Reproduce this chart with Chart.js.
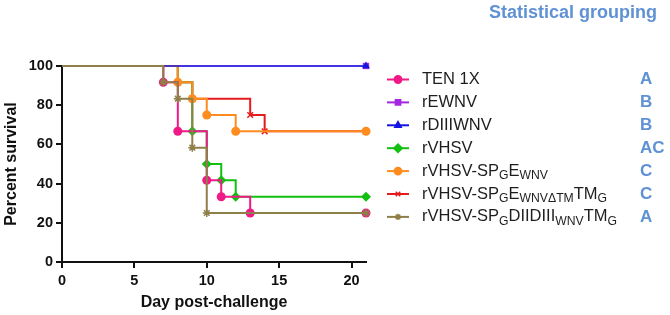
<!DOCTYPE html>
<html>
<head>
<meta charset="utf-8">
<script src="https://cdn.jsdelivr.net/npm/chart.js@4/dist/chart.umd.min.js"></script>
<style>
  html, body { margin: 0; padding: 0; background: #fff; }
  #wrap { width: 670px; height: 315px; position: relative; }
</style>
</head>
<body>
<div id="wrap"><canvas id="survival-chart" width="670" height="315"></canvas></div>
<script>
// series names (plain) and rich labels with _{subscript} markup
const seriesNames = ['TEN 1X', 'rEWNV', 'rDIIIWNV', 'rVHSV', 'rVHSV-SPGEWNV', 'rVHSV-SPGEWNVΔTMTMG', 'rVHSV-SPGDIIDIIIWNVTMG'];
const legendLabels = ['TEN 1X', 'rEWNV', 'rDIIIWNV', 'rVHSV', 'rVHSV-SP_{G}E_{WNV}', 'rVHSV-SP_{G}E_{WNVΔTM}TM_{G}', 'rVHSV-SP_{G}DIIDIII_{WNV}TM_{G}'];
const groupLetters = ['A', 'B', 'B', 'AC', 'C', 'C', 'A'];

// event days and percent survival (Kaplan-Meier steps)
const tenDays = [0, 7, 8, 10, 11, 13, 21];
const tenSurv = [100, 91.7, 66.7, 41.7, 33.3, 25, 25];
const rewnvDays = [0, 21];
const rewnvSurv = [100, 100];
const rdiiiDays = [0, 21];
const rdiiiSurv = [100, 100];
const vhsvDays = [0, 8, 9, 10, 11, 12, 21];
const vhsvSurv = [100, 91.7, 66.7, 50, 41.7, 33.3, 33.3];
const ewnvDays = [0, 8, 9, 10, 12, 21];
const ewnvSurv = [100, 91.7, 83.3, 75, 66.7, 66.7];
const etmDays = [0, 8, 9, 13, 14, 21];
const etmSurv = [100, 91.7, 83.3, 75, 66.7, 66.7];
const diiiTmDays = [0, 7, 8, 9, 10, 21];
const diiiTmSurv = [100, 91.7, 83.3, 58.3, 25, 25];

const xTicks = [0, 5, 10, 15, 20];
const yTicks = [0, 20, 40, 60, 80, 100];

const colors = ['#f01a86', '#a526e0', '#1414e0', '#12c012', '#ff8c1e', '#e41c1c', '#8f7f48'];
const styles = ['circle', 'rect', 'triangle', 'rectRot', 'circle', 'crossRot', 'star'];
const radii = [4.5, 4.5, 4.5, 5, 4.5, 4, 4];
const drawOrder = [2, 6, 1, 4, 3, 5, 0];

const allDays = [tenDays, rewnvDays, rdiiiDays, vhsvDays, ewnvDays, etmDays, diiiTmDays];
const allSurv = [tenSurv, rewnvSurv, rdiiiSurv, vhsvSurv, ewnvSurv, etmSurv, diiiTmSurv];

const datasets = seriesNames.map((name, i) => ({
    label: name,
    data: allDays[i].map((d, j) => ({ x: d, y: allSurv[i][j] })),
    borderColor: colors[i],
    backgroundColor: colors[i],
    borderWidth: i === 1 ? 1 : (i === 2 ? 1.5 : 2),
    stepped: true,
    pointStyle: styles[i],
    pointRadius: ctx => ctx.dataIndex === 0 ? 0 : radii[i],
    pointBorderWidth: styles[i] === 'crossRot' || styles[i] === 'star' ? 1.5 : 0,
    pointHoverRadius: 0,
    order: drawOrder[i],
    clip: false
}));

// draws text with _{...} subscripts, returns end x
function richText(ctx, str, x, y, size) {
    const parts = str.split(/(_\{[^}]*\})/).filter(p => p);
    parts.forEach(p => {
        if (p.startsWith('_{')) {
            const t = p.slice(2, -1);
            ctx.font = (size * 0.74) + 'px "Liberation Sans", Arial, sans-serif';
            ctx.fillText(t, x, y + size * 0.28);
            x += ctx.measureText(t).width;
        } else {
            ctx.font = size + 'px "Liberation Sans", Arial, sans-serif';
            ctx.fillText(p, x, y);
            x += ctx.measureText(p).width;
        }
    });
    return x;
}

const legendPlugin = {
    id: 'sideLegend',
    afterDraw(chart) {
        const ctx = chart.ctx;
        ctx.save();
        ctx.font = 'bold 18px "Liberation Sans", Arial, sans-serif';
        ctx.fillStyle = '#5f92d4';
        ctx.textAlign = 'right';
        ctx.textBaseline = 'alphabetic';
        ctx.fillText('Statistical grouping', 657, 18);

        const top = 79.5, step = 22.9;
        legendLabels.forEach((lab, i) => {
            const y = top + i * step;
            ctx.strokeStyle = colors[i];
            ctx.lineWidth = 2;
            ctx.beginPath();
            ctx.moveTo(387, y);
            ctx.lineTo(409, y);
            ctx.stroke();
            ctx.fillStyle = colors[i];
            ctx.lineWidth = 1.5;
            Chart.helpers.drawPoint(ctx, { pointStyle: styles[i], radius: radii[i] - 0.8, borderWidth: 1.5 }, 398, y);
            ctx.fillStyle = '#1e1e1e';
            ctx.textAlign = 'left';
            ctx.textBaseline = 'middle';
            richText(ctx, lab, 422, y, 16.5);
            ctx.font = 'bold 17px "Liberation Sans", Arial, sans-serif';
            ctx.fillStyle = '#5f92d4';
            ctx.fillText(groupLetters[i], 640, y);
        });
        ctx.restore();
    }
};

const axisFont = { family: '"Liberation Sans", Arial, sans-serif', size: 14.5, weight: 'bold' };
const titleFont = { family: '"Liberation Sans", Arial, sans-serif', size: 16, weight: 'bold' };

new Chart(document.getElementById('survival-chart').getContext('2d'), {
    type: 'line',
    data: { datasets },
    options: {
        responsive: false,
        animation: false,
        events: [],
        layout: { padding: { top: 66, right: 304, left: 0, bottom: 0 } },
        plugins: { legend: { display: false }, tooltip: { enabled: false } },
        scales: {
            x: {
                type: 'linear',
                min: 0,
                max: 21,
                afterBuildTicks: s => { s.ticks = xTicks.map(v => ({ value: v })); },
                afterFit: s => { s.height = 53; },
                border: { display: true, color: '#111', width: 2 },
                grid: { drawOnChartArea: false, drawTicks: true, tickLength: 6, color: '#111', lineWidth: 2 },
                ticks: { color: '#111', font: axisFont, padding: 4, maxRotation: 0 },
                title: { display: true, text: 'Day post-challenge', color: '#111', font: titleFont, padding: { top: 2, bottom: 3 } }
            },
            y: {
                min: 0,
                max: 100,
                afterBuildTicks: s => { s.ticks = yTicks.map(v => ({ value: v })); },
                afterFit: s => { s.width = 62; },
                border: { display: true, color: '#111', width: 2 },
                grid: { drawOnChartArea: false, drawTicks: true, tickLength: 6, color: '#111', lineWidth: 2 },
                ticks: { color: '#111', font: axisFont, padding: 3 },
                title: { display: true, text: 'Percent survival', color: '#111', font: titleFont, padding: { top: 1.5, bottom: 0 } }
            }
        }
    },
    plugins: [legendPlugin]
});
</script>
</body>
</html>
